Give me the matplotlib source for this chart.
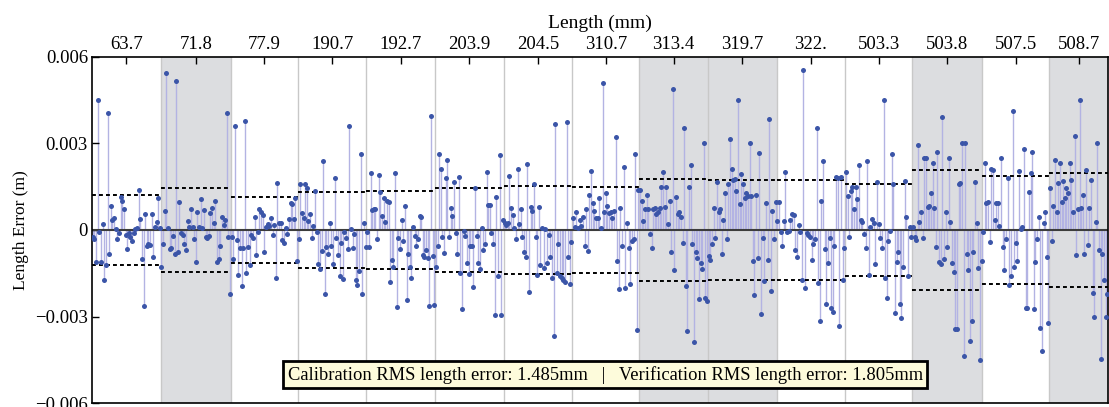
import numpy as np
import matplotlib
matplotlib.use("Agg")
import matplotlib.pyplot as plt

plt.rcParams['font.family'] = ['Liberation Serif', 'DejaVu Serif']
plt.rcParams['font.size'] = 13

# group labels (length in mm) and which groups are verification (shaded)
lengths = ['63.7', '71.8', '77.9', '190.7', '192.7', '203.9', '204.5', '310.7',
           '313.4', '319.7', '322.', '503.3', '503.8', '507.5', '508.7']
verification = [False, True, False, False, False, False, False, False,
                True, True, False, False, True, False, True]

# length errors per group, in mm
g1 = [-0.24, -0.30, -1.11, 4.50, -0.06, -1.11, 0.21, -1.74, -1.23, 4.05, -0.84, 0.84, 0.36, 0.42,
      0.03, -0.30, -0.09, 1.14, 0.99, 0.72, -0.18, -0.66, -0.12, -0.24, -0.39, -0.12, 0.03, 0.06,
      1.38, 0.39, -0.99, -2.64, 0.54, -0.57, -0.48, -0.51, 0.57, -0.93, 0.09, 0.27, 1.11, 0.06]
g2 = [-1.30, -0.47, 0.66, 5.44, 0.06, -0.67, -0.61, -0.21, -0.84, 5.17, -0.77, 0.98, -0.09, -0.17,
      -0.50, -0.69, 0.31, 0.09, 0.73, 0.12, -0.32, -1.10, 0.61, 0.10, 1.07, 0.06, 0.68, -0.25,
      -0.29, -0.21, 0.58, 0.77, 0.23, 1.02, -1.12, -1.00, -0.55, 0.44, 0.17, 0.35, 4.07, -0.23, -2.23]
g3 = [-0.23, -1.00, 3.60, -0.35, -1.56, -0.63, -1.94, -0.61, 3.77, -1.48, -0.59, -1.21, -0.17,
      -0.27, 0.44, -0.87, -0.06, 0.72, 0.63, 0.52, -0.75, 0.12, 0.20, 0.15, 0.43, -0.17, 0.17,
      -1.67, 1.64, 0.25, 0.25, -0.35, -0.44, 0.06, -0.15, 0.37, 0.92, 0.90, 0.38, 1.10, -1.06]
g4 = [-0.32, 1.58, 0.59, 0.40, 1.61, 1.44, 0.32, 0.54, -0.29, 0.14, 1.35, -0.06, -1.19, -1.36,
      -0.73, 2.39, -2.21, -0.58, -0.84, 0.25, -0.55, -1.19, 1.81, -0.29, -0.87, -1.61, -0.44,
      -1.71, -0.08, -0.27, -0.67, 3.60, 0.03, -0.63, -0.14, -1.73, -1.90, -1.42, 2.63, -2.23, 0.23, -0.58]
g5 = [-0.06, -0.58, 1.96, 0.69, 0.72, 0.73, -0.31, 1.90, 1.33, 0.48, 1.10, 0.29, 1.02, 0.98,
      -1.79, -1.04, -1.30, 1.98, -2.68, -0.27, -0.67, 0.35, -0.38, 0.83, -2.42, -0.84, -1.27,
      -1.65, 0.09, -0.21, -0.55, -0.32, 0.48, 0.46, -0.87, -0.92, -0.69, -0.96, -2.62, 3.94, -0.90, -2.60]
g6 = [-1.27, -0.55, 2.63, 2.11, -0.23, -0.81, 1.82, 2.42, -0.23, 0.75, 0.48, 1.67, -0.12, -0.83,
      1.85, -1.50, -2.75, -0.03, -0.21, -1.15, -1.53, -0.54, -0.55, -1.96, 1.46, -0.21, -1.15,
      -1.36, 0.06, -0.69, -0.50, 2.02, 0.87, 0.87, -0.12, -0.50, -2.94, 1.15, -1.61, 2.60, -2.96, 0.35]
g7 = [0.23, 0.17, 0.25, 1.87, 0.75, 0.52, 0.06, -0.31, 2.13, 0.20, 0.73, -0.25, -0.75, -0.95,
      2.28, -2.16, 0.81, 0.67, 1.58, -0.23, -1.56, 0.81, -1.21, 0.08, -1.33, 0.03, -1.15, -0.17,
      -0.95, -1.65, -3.69, 3.66, -1.50, -0.50, -1.58, -1.67, -1.73, -1.81, 3.75, -0.92, -1.88, -0.40]
g8 = [0.43, 0.09, 0.61, 0.08, 0.35, 0.14, 0.46, -0.54, 0.73, -0.72, 1.21, 2.04, 0.92, 0.67,
      0.43, 0.40, 1.10, 0.06, 5.10, 0.63, 1.27, 0.84, 0.60, 0.63, 0.40, 0.67, 3.22, -1.07, -2.05,
      0.78, -0.54, 2.17, -2.02, 0.23, -0.61, -1.88, -0.37, -0.30, 2.63, -3.46, 1.40]
g9 = [1.38, 1.02, 0.32, 0.72, 1.23, 0.72, -0.14, -0.61, 0.72, 0.77, 0.55, 0.61, 0.78, 1.50,
      2.02, 0.81, 1.48, 0.20, 1.02, -0.78, 4.90, -1.38, 1.15, 0.55, 0.63, 0.46, -0.46, 3.54,
      -1.94, -3.49, 1.50, 2.27, -0.50, -3.89, -0.75, -0.98, -2.40, -1.15, -1.36, 3.03, -2.36, -2.46]
g10 = [-0.90, -1.04, -0.50, 0.78, -0.29, 1.65, 0.63, 0.73, -0.83, 0.35, 1.27, -0.31, 1.58, 3.14,
       2.10, 1.72, 1.77, 1.36, 4.50, 0.90, 1.93, 1.61, 1.12, 1.27, 1.19, 3.02, 1.18, -1.06, -2.25,
       1.21, -0.96, 2.68, -2.91, -0.29, -1.76, 0.95, -1.04, 3.86, -2.13, 0.66, -0.31, 0.98]
g11 = [0.32, 0.98, -0.06, -0.55, 0.31, 2.02, -0.06, -0.03, 0.35, 0.54, 0.52, -0.69, -0.92, 0.17,
       -0.06, -1.73, 5.54, -2.02, -0.12, -0.17, -0.23, -1.04, -0.50, -0.32, 3.52, -1.85, -3.15,
       1.02, 2.39, -0.67, -2.57, -1.15, -0.29, -2.71, -2.86, -0.55, 1.85, 1.82, -3.32, 1.85, -1.75, -0.61]
g12 = [2.02, 1.19, -0.23, 1.35, 1.48, 0.73, 1.50, 1.06, 2.25, 0.35, 0.29, -0.14, -0.61, 2.39,
       -1.56, 0.09, 0.38, 0.23, -1.18, 1.67, 0.21, -0.27, -0.61, 4.52, -1.65, -2.36, -0.37, -0.02,
       2.62, 1.61, -2.88, -1.10, -0.75, -2.57, -3.06, -1.30, 1.71, 0.46, -1.61, 0.09, -0.23]
g13 = [0.12, -0.23, -0.35, 2.96, 0.29, 0.61, -0.29, 2.48, 2.48, 0.81, 0.84, 1.30, 2.34, 0.77,
       -0.60, 2.71, -1.12, -1.19, 3.92, -1.00, 0.63, -0.60, 2.51, 0.29, -1.15, -1.44, -3.44, -3.44,
       1.61, 1.64, 3.00, -4.38, 3.03, -0.83, -1.38, -3.86, -3.17, -0.78, 1.67, 0.23, -1.33, -4.50, -1.07]
g14 = [-0.08, 2.31, 0.95, 0.98, -0.40, 2.11, 2.08, 0.35, 0.95, 0.92, 0.14, 2.48, -0.58, -1.38,
       -0.32, 1.79, -1.90, -1.61, 4.12, -1.30, -0.44, -1.07, 2.04, 0.03, 0.12, 2.80, -2.71, -2.71,
       1.33, 1.96, 2.69, -2.73, -1.10, -0.32, 0.46, -3.40, -4.21, 0.25, 0.61, -0.92, -3.23]
g15 = [1.46, -0.38, 0.83, 2.42, 0.61, 1.64, 2.31, 0.98, 1.71, 1.12, 1.44, 1.29, 2.31, 1.73,
       0.61, 3.25, -0.87, 0.72, 4.50, 0.77, 1.23, -0.84, 2.08, -0.52, 0.78, 1.73, -2.17, -3.00,
       0.29, 3.00, -0.69, -4.48, -0.83, -1.73, -3.03, -2.23]

groups = [g1, g2, g3, g4, g5, g6, g7, g8, g9, g10, g11, g12, g13, g14, g15]

fig = plt.figure(figsize=(11.09, 4.07), dpi=100)
ax = fig.add_axes([0.083, 0.0098, 0.9162, 0.8502])

start = 0
centers = []
for k, g in enumerate(groups):
    err = np.array(g) / 1000.0
    n = len(err)
    x = np.arange(n) + start + 0.5
    if verification[k]:
        ax.axvspan(start, start + n, color='#dcdde0', lw=0, zorder=0)
    if start > 0:
        ax.axvline(start, color='#c8c8c8', lw=1, zorder=0.5)
    # stems + points
    ax.vlines(x, 0, err, color='#b3b3e3', lw=1, zorder=1)
    ax.plot(x, err, 'o', color='#3b55a8', ms=3.6, mec='none', zorder=3)
    # rms band for this group
    rms = np.sqrt(np.mean(err ** 2))
    ax.hlines([rms, -rms], start, start + n, colors='black', linestyles=(0, (2, 1.6)), lw=1.4, zorder=2)
    centers.append(start + n / 2)
    start += n

ax.axhline(0, color='#3c3c3c', lw=1.5, zorder=2.5)

ax.set_xlim(0, start)
ax.set_ylim(-0.006, 0.006)

ax.xaxis.tick_top()
ax.xaxis.set_label_position('top')
ax.set_xticks(centers)
ax.set_xticklabels(lengths)
ax.set_xlabel('Length (mm)', fontsize=14, labelpad=6)
ax.set_yticks([-0.006, -0.003, 0, 0.003, 0.006])
ax.set_yticklabels(['\u22120.006', '\u22120.003', '0', '0.003', '0.006'], fontsize=13.5)
ax.set_ylabel('Length Error (m)', fontsize=12.5, labelpad=4)
ax.tick_params(axis='x', direction='in', length=5, width=1, pad=3, labelsize=13.5)
ax.tick_params(axis='y', direction='in', length=5, width=1, pad=3)
for sp in ax.spines.values():
    sp.set_linewidth(1.2)

ax.text(0.505, 0.082,
        'Calibration RMS length error: 1.485mm   |   Verification RMS length error: 1.805mm',
        transform=ax.transAxes, ha='center', va='center', fontsize=13.3, zorder=5,
        bbox=dict(boxstyle='square,pad=0.25', facecolor='#fdfbdb', edgecolor='black', lw=2))

fig.savefig('out.png', dpi=100)
